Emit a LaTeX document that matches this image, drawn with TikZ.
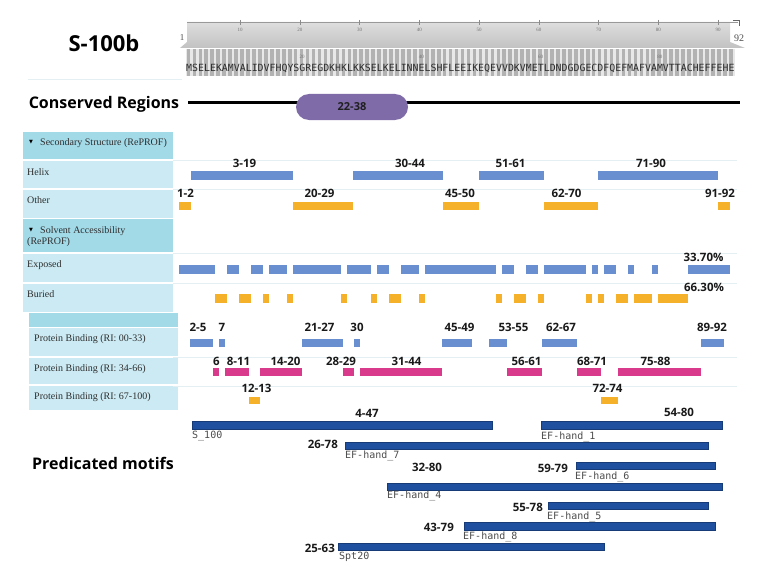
\documentclass[tikz,border=0pt]{standalone}
\usepackage{fontspec}
\setmainfont{Liberation Serif}
\newfontfamily\lblfont{Open Sans}
\newfontfamily\seqfont{DejaVu Sans Mono}
\newfontfamily\symfont{DejaVu Sans}

\definecolor{hdrblue}{HTML}{A3DAE8}
\definecolor{rowblue}{HTML}{CBEAF3}
\definecolor{helixblue}{HTML}{6A8FD1}
\definecolor{coilorange}{HTML}{F6B12B}
\definecolor{bindpink}{HTML}{D93A8C}
\definecolor{motifblue}{HTML}{1F4F9F}
\definecolor{motifedge}{HTML}{173B77}
\definecolor{pillpurple}{HTML}{7F6BA8}
\definecolor{gridline}{HTML}{E4EFF3}

\tikzset{
  rng/.style={font=\lblfont\bfseries\fontsize{11.5}{13}\selectfont, text=black!90, inner sep=0pt},
  headline/.style={font=\lblfont\bfseries\fontsize{16}{19}\selectfont, inner sep=0pt},
  rowtxt/.style={font=\fontsize{10}{12}\selectfont, text=black!82, inner sep=0pt, anchor=west},
  mname/.style={font=\seqfont\fontsize{10}{12}\selectfont, text=black!70, inner sep=0pt, anchor=west},
  tinynum/.style={font=\fontsize{5}{6}\selectfont, text=black!55, inner sep=0pt},
  mbar/.style={fill=motifblue, draw=motifedge, line width=0.6pt}
}

\begin{document}
\begin{tikzpicture}[x=1pt, y=-1pt]
  \useasboundingbox (0,0) rectangle (759,567);

  % titles
  \node[font=\lblfont\bfseries\fontsize{22}{26}\selectfont, inner sep=0pt] (title) at (104,43) {S-100b};
  \draw[gridline, line width=1pt] (28,80) -- (182,80);
  \node[headline] (consv) at (104,104) {Conserved Regions};
  \node[headline] (motifs) at (103,463) {Predicated motifs};

  % ruler and sequence
  \shade[top color=black!13, bottom color=black!24] (187,22) -- (730,22) -- (730,42) -- (745,48) -- (180,48) -- (187,42) -- cycle;
  \draw[black!40] (187,22) -- (738,22);
  \draw[black!60] (733,20) -- (739,20) -- (739,26);
  \foreach \n in {10,20,...,90} {
    \draw[black!45] ({240+(\n-10)*5.975},20) -- +(0,5);
    \node[tinynum] (tk\n) at ({240+(\n-10)*5.975},30) {\n};
  }
  \node[font=\fontsize{9}{10}\selectfont, text=black!70, inner sep=0pt] (first) at (182,38) {1};
  \node[font=\fontsize{10}{11}\selectfont, text=black!70, inner sep=0pt] (last) at (739,38) {92};

  \fill[black!9] (186,49) rectangle (735,76);
  \foreach \i in {0,...,91}
    \fill[black!30] ({186.6+\i*5.96},49) rectangle +(3.6,27);
  \foreach \n in {20,40,60,80}
    \node[tinynum] (sq\n) at ({186+(\n-0.5)*5.96},57) {\n};
  \node[font=\seqfont\fontsize{9.9}{11}\selectfont, text=black!82, anchor=west, inner sep=0pt] (seq) at (186,68)
    {MSELEKAMVALIDVFHQYSGREGDKHKLKKSELKELINNELSHFLEEIKEQEVVDKVMETLDNDGDGECDFQEFMAFVAMVTTACHEFFEHE};

  % conserved region
  \draw[line width=2.5pt] (188,102.5) -- (740,102.5);
  \node[fill=pillpurple, rounded corners=13pt, minimum width=112pt, minimum height=26pt, inner sep=0pt,
        font=\lblfont\bfseries\fontsize{11}{13}\selectfont, text=black!88] (pill) at (352,107) {22-38};

  % left panels
  \fill[hdrblue] (23,132) rectangle (173,159);
  \fill[rowblue] (23,161) rectangle (173,188);
  \fill[rowblue] (23,190) rectangle (173,218);
  \fill[hdrblue] (23,219) rectangle (173,252);
  \fill[rowblue] (23,254) rectangle (173,282);
  \fill[rowblue] (23,284) rectangle (173,312);
  \fill[hdrblue] (29,313) rectangle (178,327);
  \fill[rowblue] (29,328) rectangle (178,356);
  \fill[rowblue] (29,358) rectangle (178,384);
  \fill[rowblue] (29,386) rectangle (178,410);

  \node[font=\symfont\fontsize{5}{6}\selectfont, inner sep=0pt] (ssarr) at (31,142) {▼};
  \node[rowtxt] (ss) at (40,143) {Secondary Structure (RePROF)};
  \node[rowtxt] (helix) at (27,172) {Helix};
  \node[rowtxt] (other) at (27,200) {Other};
  \node[font=\symfont\fontsize{5}{6}\selectfont, inner sep=0pt] (saarr) at (31,230) {▼};
  \node[rowtxt] (sa) at (40,231) {Solvent Accessibility};
  \node[rowtxt] (sarp) at (27,242) {(RePROF)};
  \node[rowtxt] (exposed) at (27,265) {Exposed};
  \node[rowtxt] (buried) at (27,294) {Buried};
  \node[rowtxt] (pba) at (34,339) {Protein Binding (RI: 00-33)};
  \node[rowtxt] (pbb) at (34,369) {Protein Binding (RI: 34-66)};
  \node[rowtxt] (pbc) at (34,397) {Protein Binding (RI: 67-100)};

  \foreach \y in {160,189,253,283,357,386}
    \draw[gridline] (173,\y) -- (737,\y);

  % secondary structure
  \foreach \a/\b in {3/19,30/44,51/61,71/90}
    \fill[helixblue] ({179+(\a-1)*5.99},171) rectangle ({179+\b*5.99},180);
  \foreach \t/\x [count=\k] in {3-19/244.5,30-44/410,51-61/510.5,71-90/651}
    \node[rng] (hx\k) at (\x,163) {\t};
  \foreach \a/\b in {1/2,20/29,45/50,62/70,91/92}
    \fill[coilorange] ({179+(\a-1)*5.99},202) rectangle ({179+\b*5.99},210);
  \foreach \t/\x [count=\k] in {1-2/185.5,20-29/319.5,45-50/460,62-70/566.5,91-92/720}
    \node[rng] (ot\k) at (\x,193) {\t};

  % solvent accessibility
  \foreach \a/\b in {1/6,9/10,13/14,16/18,20/27,29/32,34/35,38/40,42/53,55/56,59/60,62/68,70/70,72/73,76/76,80/80,86/92}
    \fill[helixblue] ({179+(\a-1)*5.99},265) rectangle ({179+\b*5.99},273.5);
  \foreach \a/\b in {7/8,11/12,15/15,19/19,28/28,33/33,36/37,41/41,54/54,57/58,61/61,69/69,71/71,74/75,77/79,81/85}
    \fill[coilorange] ({179+(\a-1)*5.99},294) rectangle ({179+\b*5.99},303);
  \node[rng] (expct) at (703.5,257) {33.70\%};
  \node[rng] (burpct) at (704,287) {66.30\%};

  % protein binding
  \foreach \a/\b in {2/5,7/7,21/27,30/30,45/49,53/55,62/67,89/92}
    \fill[helixblue] ({184.1+(\a-1)*5.87},339) rectangle ({184.1+\b*5.87},347);
  \foreach \t/\x [count=\k] in {2-5/198,7/222,21-27/319.5,30/357,45-49/459.5,53-55/513.5,62-67/561,89-92/712}
    \node[rng] (pa\k) at (\x,327) {\t};
  \foreach \a/\b in {6/6,8/11,14/20,28/29,31/44,56/61,68/71,75/88}
    \fill[bindpink] ({184.1+(\a-1)*5.87},368) rectangle ({184.1+\b*5.87},376);
  \foreach \t/\x [count=\k] in {6/216.5,8-11/238.5,14-20/285.5,28-29/341,31-44/406.5,56-61/526.5,68-71/592,75-88/655.5}
    \node[rng] (pb\k) at (\x,361) {\t};
  \foreach \a/\b in {12/13,72/74}
    \fill[coilorange] ({184.1+(\a-1)*5.87},397) rectangle ({184.1+\b*5.87},404);
  \foreach \t/\x [count=\k] in {12-13/256.5,72-74/607.5}
    \node[rng] (pc\k) at (\x,388) {\t};

  % predicted motifs
  \foreach \a/\b/\y in {4/47/421.5,54/80/421.5,26/78/442,59/79/462,32/80/483,55/78/502,43/79/522.5,25/63/543}
    \draw[mbar] ({192+(\a-4)*6.98},\y) rectangle ({192+(\b-4)*6.98},{\y+7.5});

  \node[rng] (m1) at (367,413) {4-47};
  \node[rng] (m2) at (679,412) {54-80};
  \node[rng, anchor=east] (m3) at (338,444) {26-78};
  \node[rng] (m4) at (427,467) {32-80};
  \node[rng, anchor=east] (m5) at (568,468) {59-79};
  \node[rng, anchor=east] (m6) at (543,507) {55-78};
  \node[rng, anchor=east] (m7) at (454,527) {43-79};
  \node[rng, anchor=east] (m8) at (335,548) {25-63};

  \node[mname] (n1) at (192,436) {S\_100};
  \node[mname] (n2) at (541,437) {EF-hand\_1};
  \node[mname] (n3) at (345,456) {EF-hand\_7};
  \node[mname] (n4) at (575,477) {EF-hand\_6};
  \node[mname] (n5) at (387,496) {EF-hand\_4};
  \node[mname] (n6) at (547,517) {EF-hand\_5};
  \node[mname] (n7) at (463,537) {EF-hand\_8};
  \node[mname] (n8) at (339,557) {Spt20};
\end{tikzpicture}
\end{document}
